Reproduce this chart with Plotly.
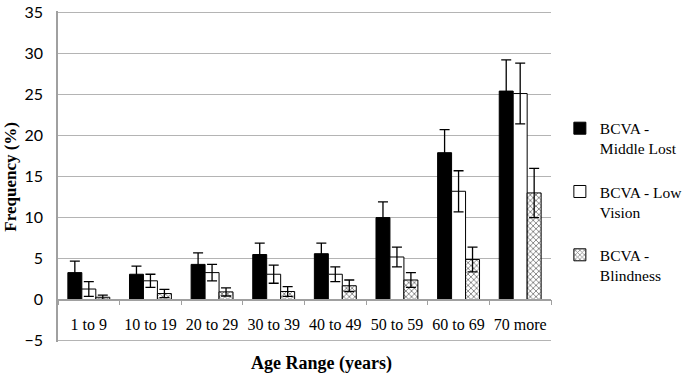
import plotly.graph_objects as go

categories = ["1 to 9", "10 to 19", "20 to 29", "30 to 39", "40 to 49", "50 to 59", "60 to 69", "70 more"]
middle_lost = [3.3, 3.1, 4.3, 5.5, 5.6, 10.0, 17.9, 25.4]
middle_lost_err = [1.4, 1.0, 1.4, 1.4, 1.3, 1.9, 2.8, 3.8]
low_vision = [1.3, 2.3, 3.3, 3.1, 3.1, 5.2, 13.2, 25.1]
low_vision_err = [0.9, 0.8, 1.0, 1.1, 0.9, 1.2, 2.5, 3.7]
blindness = [0.3, 0.75, 0.95, 1.0, 1.7, 2.4, 4.9, 13.0]
blindness_err = [0.25, 0.5, 0.5, 0.6, 0.7, 0.9, 1.5, 3.0]
series_names = ["BCVA -<br>Middle Lost", "BCVA - Low<br>Vision", "BCVA -<br>Blindness"]
y_ticks = [-5, 0, 5, 10, 15, 20, 25, 30, 35]

serif = "Liberation Serif"
y_lo, y_hi = -5.15, 35.15
zero_frac = (0 - y_lo) / (y_hi - y_lo)

def err(vals):
    return dict(type="data", array=vals, visible=True, color="black", thickness=1.3, width=5)

fig = go.Figure()
fig.add_trace(go.Bar(x=categories, y=middle_lost, name=series_names[0], legendgroup="a",
                     marker=dict(color="black", line=dict(color="black", width=1)),
                     error_y=err(middle_lost_err)))
fig.add_trace(go.Bar(x=categories, y=low_vision, name=series_names[1], legendgroup="b",
                     marker=dict(color="white", line=dict(color="black", width=1)),
                     error_y=err(low_vision_err)))
fig.add_trace(go.Bar(x=categories, y=blindness, name=series_names[2], legendgroup="c",
                     marker=dict(color="white", line=dict(color="black", width=1),
                                 pattern=dict(shape="x", fgcolor="black", bgcolor="white", size=4, solidity=0.4)),
                     error_y=err(blindness_err)))

fig.update_layout(
    width=685, height=375,
    margin=dict(l=58, r=134, t=11, b=33, autoexpand=False),
    paper_bgcolor="white", plot_bgcolor="white",
    barmode="group", bargap=0.32, bargroupgap=0,
    font=dict(family=serif, size=16, color="black"),
    legend=dict(x=1.018, y=0.696, xanchor="left", yanchor="top", valign="top",
                traceorder="grouped", tracegroupgap=20,
                font=dict(family=serif, size=15.5, color="black"),
                itemwidth=30, bgcolor="rgba(0,0,0,0)"),
    xaxis=dict(type="category", anchor="free", position=zero_frac, automargin=False,
               showline=True, linecolor="#a0a0a0", linewidth=1.5,
               ticks="outside", tickson="boundaries", ticklen=5, tickcolor="#a0a0a0",
               showgrid=False, ticklabelstandoff=10, tickangle=0,
               tickfont=dict(family=serif, size=16, color="black")),
    yaxis=dict(range=[y_lo, y_hi], tickvals=y_ticks,
               showgrid=True, gridcolor="#b4b4b4", gridwidth=1.2,
               zeroline=False, showline=True, linecolor="#a0a0a0", linewidth=1.5, automargin=False,
               ticks="", ticklabelstandoff=10,
               tickfont=dict(family="Lato", size=16, color="black")),
    annotations=[
        dict(text="<b>Age Range (years)</b>", xref="paper", yref="paper", x=0.535, y=-0.065,
             xanchor="center", yanchor="middle", showarrow=False,
             font=dict(family=serif, size=18, color="black")),
        dict(text="<b>Frequency (%)</b>", xref="paper", yref="paper", x=-0.097, y=0.5,
             xanchor="center", yanchor="middle", showarrow=False, textangle=-90,
             font=dict(family=serif, size=17, color="black")),
    ],
)

fig.write_html("out.html", config={"displayModeBar": False},
               post_script="document.body.style.margin='0';")
